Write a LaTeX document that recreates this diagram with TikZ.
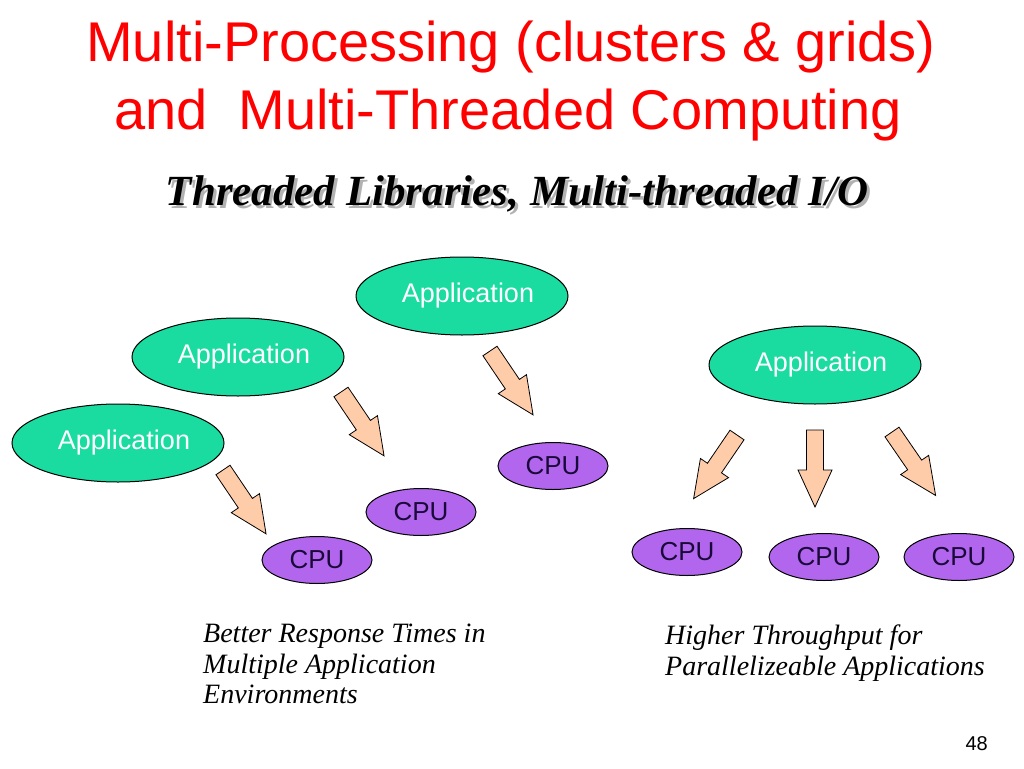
\documentclass[tikz,border=0pt]{standalone}
\usepackage{fontspec}
\setmainfont{Liberation Serif}
\setsansfont{Liberation Sans}
\usetikzlibrary{shapes.geometric}
\definecolor{titlered}{HTML}{FF0000}
\definecolor{appgreen}{HTML}{1ADCA0}
\definecolor{cpupurple}{HTML}{B266EE}
\definecolor{arrowpeach}{HTML}{FFCCAA}
\definecolor{cputext}{HTML}{1A0A3A}
\tikzset{
  appnode/.style={ellipse, draw=black, line width=1pt, fill=appgreen,
    minimum width=212pt, minimum height=78pt, inner sep=0pt,
    text=white, font=\sffamily\fontsize{27}{30}\selectfont},
  cpunode/.style={ellipse, draw=black, line width=1pt, fill=cpupurple,
    minimum width=110pt, minimum height=47pt, inner sep=0pt,
    text=cputext, font=\sffamily\fontsize{26}{30}\selectfont},
  blockarrow/.style={draw=black, line width=0.8pt, fill=arrowpeach, line join=miter},
  titletext/.style={text=titlered, font=\sffamily\fontsize{56}{66}\selectfont, anchor=base, inner sep=0pt},
  subtext/.style={font=\bfseries\itshape\fontsize{43}{48}\selectfont, anchor=base, inner sep=0pt},
  notetext/.style={font=\itshape\fontsize{28}{31}\selectfont, anchor=base west, inner sep=0pt},
}
\newcommand{\blockarr}[3]{% tail x, tail y, rotation
  \begin{scope}[shift={(#1,#2)}, rotate=#3]
    \path[blockarrow] (0,-8.5) -- (40,-8.5) -- (40,-17) -- (77,0) -- (40,17) -- (40,8.5) -- (0,8.5) -- cycle;
  \end{scope}}
\begin{document}
\begin{tikzpicture}[x=1pt,y=-1pt]
\useasboundingbox[fill=white] (0,0) rectangle (1024,768);
% title
\node[titletext] (t1) at (511,62) {Multi-Processing (clusters \& grids)};
\node[titletext] (t2) at (508,129) {and\ \ Multi-Threaded Computing};
% subtitle with shadow
\node[subtext, text=black!30] (subsh) at (520,208) {Threaded Libraries, Multi-threaded I/O};
\node[subtext, text=black] (sub) at (517,205) {Threaded Libraries, Multi-threaded I/O};
% applications
\node[appnode] (app1) at (462,296) {\hspace{12pt}Application};
\node[appnode] (app2) at (238,357) {\hspace{12pt}Application};
\node[appnode] (app3) at (118,443) {\hspace{12pt}Application};
\node[appnode] (app4) at (815,365) {\hspace{12pt}Application};
% cpus
\node[cpunode] (cpu1) at (317,560) {CPU};
\node[cpunode] (cpu2) at (421,512) {CPU};
\node[cpunode] (cpu3) at (553,466) {CPU};
\node[cpunode] (cpu4) at (687,552) {CPU};
\node[cpunode] (cpu5) at (824,557) {CPU};
\node[cpunode] (cpu6) at (959,557) {CPU};
% block arrows
\blockarr{223}{470}{-56}
\blockarr{341}{392}{-56}
\blockarr{490}{351}{-56}
\blockarr{737}{435}{-124.3}
\blockarr{815}{430}{-90}
\blockarr{892}{432}{-55.5}
% notes
\node[notetext] (n1) at (203,642) {Better Response Times in};
\node[notetext] (n2) at (203,673) {Multiple Application};
\node[notetext] (n3) at (203,703) {Environments};
\node[notetext] (n4) at (665,644) {Higher Throughput for};
\node[notetext] (n5) at (665,675) {Parallelizeable Applications};
% page number
\node[font=\sffamily\fontsize{20}{24}\selectfont, anchor=base east, inner sep=0pt] (pg) at (988,750) {48};
\end{tikzpicture}
\end{document}
